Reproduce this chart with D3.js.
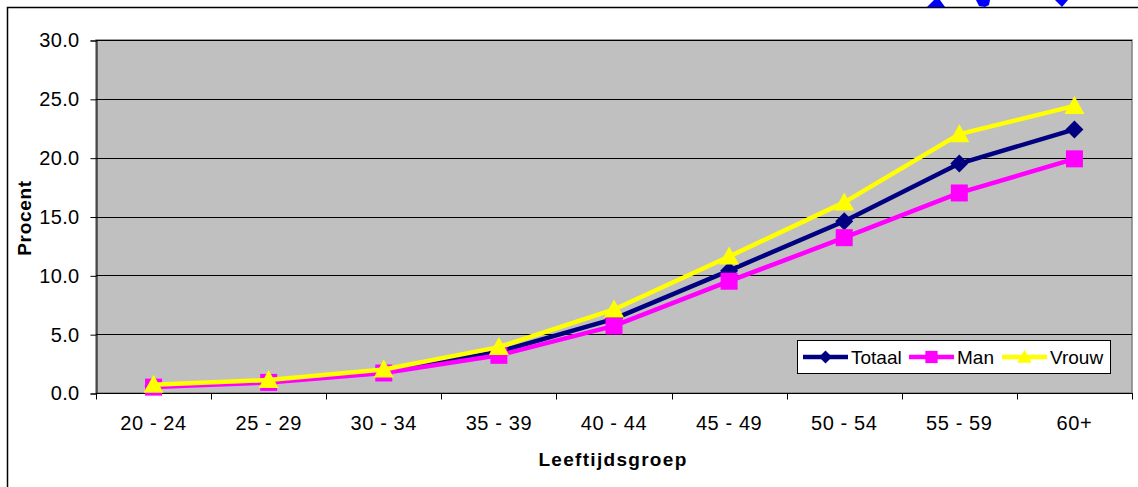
<!DOCTYPE html>
<html>
<head>
<meta charset="utf-8">
<script src="https://cdn.jsdelivr.net/npm/d3@7"></script>
<style>
  html, body { margin: 0; padding: 0; background: #fff; }
  svg { display: block; }
  text { font-family: "Liberation Sans", Arial, sans-serif; fill: #000; }
</style>
</head>
<body>
<script>
const categories = ["20 - 24", "25 - 29", "30 - 34", "35 - 39", "40 - 44", "45 - 49", "50 - 54", "55 - 59", "60+"];
const totaal = [0.6, 1.0, 1.8, 3.5, 6.3, 10.4, 14.6, 19.5, 22.4];
const man    = [0.5, 0.9, 1.7, 3.2, 5.7, 9.5, 13.2, 17.0, 19.9];
const vrouw  = [0.7, 1.1, 2.0, 3.9, 7.1, 11.6, 16.2, 22.0, 24.4];
const yTicks = [0, 5, 10, 15, 20, 25, 30];
const seriesNames = ["Totaal", "Man", "Vrouw"];

const W = 1138, H = 487;
const plot = { left: 96, right: 1132, top: 40, bottom: 393 };

const svg = d3.select("body").append("svg").attr("width", W).attr("height", H);

// outer frame
svg.append("path")
  .attr("d", `M7.5,${H} V7.5 H${W}`)
  .attr("fill", "none").attr("stroke", "#000").attr("stroke-width", 1.5);

// blue fragments at top (clipped logo)
const blue = "#0000ff";
[
  [[927,7],[934,0],[940,0],[945,7]],
  [[976,0],[990,0],[989,5],[985,7],[979,6]],
  [[1055,0],[1068,0],[1062,7]]
].forEach(p => svg.append("polygon").attr("points", p.map(d => d.join(",")).join(" ")).attr("fill", blue));

const x = d3.scaleBand().domain(categories).range([plot.left, plot.right]).padding(0);
const y = d3.scaleLinear().domain([0, 30]).range([plot.bottom, plot.top]);
const cx = c => x(c) + x.bandwidth() / 2;

// plot area background
svg.append("rect")
  .attr("x", plot.left).attr("y", plot.top)
  .attr("width", plot.right - plot.left).attr("height", plot.bottom - plot.top)
  .attr("fill", "#c0c0c0").attr("stroke", "#808080").attr("stroke-width", 1.5);

// gridlines
svg.append("g").selectAll("line").data(yTicks.filter(t => t > 0)).join("line")
  .attr("x1", plot.left).attr("x2", plot.right)
  .attr("y1", d => Math.round(y(d)) + 0.5).attr("y2", d => Math.round(y(d)) + 0.5)
  .attr("stroke", "#000").attr("stroke-width", 1);

// y axis
const yAxis = d3.axisLeft(y).tickValues(yTicks).tickFormat(d3.format(".1f")).tickSize(6).tickPadding(11);
const gy = svg.append("g").attr("transform", `translate(${plot.left + 0.5},0.5)`).call(yAxis);
gy.selectAll("path").attr("stroke", "#000").attr("stroke-width", 1);
gy.selectAll("line").attr("stroke", "#000");
gy.selectAll("text").style("font-size", "20px").style("letter-spacing", "0.3px").attr("fill", "#000");

// x axis (ticks at band boundaries)
const gx = svg.append("g").attr("transform", `translate(0,${plot.bottom + 0.5})`);
gx.append("line").attr("x1", plot.left).attr("x2", plot.right + 1).attr("stroke", "#000");
const bounds = categories.map(c => x(c)).concat([plot.right]);
gx.selectAll("line.tk").data(bounds).join("line").attr("class", "tk")
  .attr("x1", d => Math.round(d) + 0.5).attr("x2", d => Math.round(d) + 0.5)
  .attr("y1", 0).attr("y2", 6).attr("stroke", "#000");
gx.selectAll("text").data(categories).join("text")
  .attr("x", d => cx(d)).attr("y", 36)
  .attr("text-anchor", "middle").style("font-size", "20px").style("letter-spacing", "0.6px")
  .text(d => d);

// axis titles
svg.append("text").attr("x", 613).attr("y", 466).attr("text-anchor", "middle")
  .style("font-size", "19px").style("font-weight", "bold").style("letter-spacing", "1.3px")
  .text("Leeftijdsgroep");
svg.append("text").attr("transform", "translate(31,218) rotate(-90)").attr("text-anchor", "middle")
  .style("font-size", "19px").style("font-weight", "bold").style("letter-spacing", "0.7px")
  .text("Procent");

// markers
function markerPath(type) {
  if (type === "diamond") return "M0,-9 L9,0 L0,9 L-9,0 Z";
  if (type === "square") return "M-8.5,-8.5 H8.5 V8.5 H-8.5 Z";
  return "M0,-10 L10,8 L-10,8 Z";
}

const series = [
  { name: seriesNames[0], values: totaal, color: "#000080", marker: "diamond" },
  { name: seriesNames[1], values: man, color: "#ff00ff", marker: "square" },
  { name: seriesNames[2], values: vrouw, color: "#ffff00", marker: "triangle" }
];

const line = d3.line().x((d, i) => cx(categories[i])).y(d => y(d));

series.forEach(s => {
  const g = svg.append("g");
  g.append("path").attr("d", line(s.values)).attr("fill", "none")
    .attr("stroke", s.color).attr("stroke-width", 4.5).attr("stroke-linejoin", "round");
  g.selectAll("path.m").data(s.values).join("path").attr("class", "m")
    .attr("d", markerPath(s.marker))
    .attr("transform", (d, i) => `translate(${cx(categories[i])},${y(d)})`)
    .attr("fill", s.color);
});

// legend
const lg = svg.append("g");
lg.append("rect").attr("x", 797.5).attr("y", 340.5).attr("width", 313).attr("height", 33)
  .attr("fill", "#fff").attr("stroke", "#000").attr("stroke-width", 1);
const legendItems = [
  { x1: 803, x2: 848, tx: 851 },
  { x1: 909, x2: 954, tx: 957 },
  { x1: 1002, x2: 1047, tx: 1050 }
];
series.forEach((s, i) => {
  const it = legendItems[i];
  const ly = 357;
  lg.append("line").attr("x1", it.x1).attr("x2", it.x2).attr("y1", ly).attr("y2", ly)
    .attr("stroke", s.color).attr("stroke-width", 4.5);
  lg.append("path").attr("d", markerPath(s.marker))
    .attr("transform", `translate(${(it.x1 + it.x2) / 2},${ly}) scale(0.72)`)
    .attr("fill", s.color);
  lg.append("text").attr("x", it.tx).attr("y", ly + 7).style("font-size", "19px").text(s.name);
});
</script>
</body>
</html>
